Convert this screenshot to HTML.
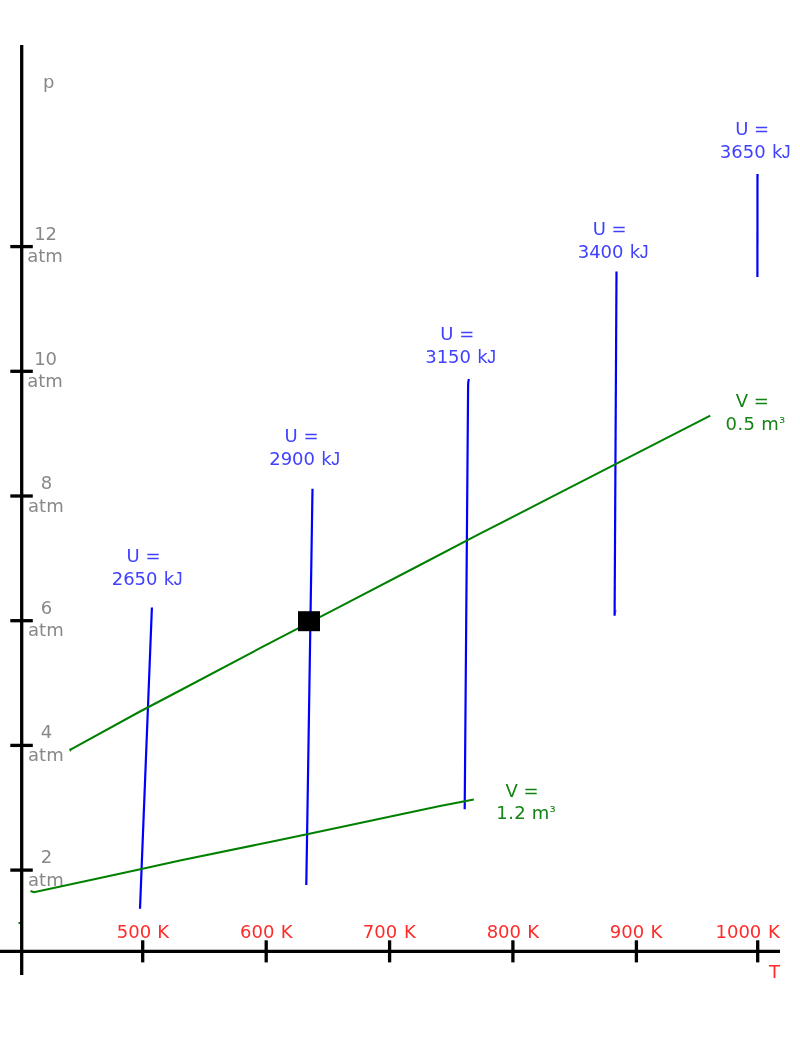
<!DOCTYPE html>
<html>
<head>
<meta charset="utf-8">
<title>p-T diagram</title>
<style>
html,body{margin:0;padding:0;background:#fff;}
svg{display:block;will-change:transform;}
text{font-family:"DejaVu Sans","Liberation Sans",sans-serif;font-size:18px;}
.J{font-family:"Liberation Sans",sans-serif;font-size:17.6px;}
.g{fill:#888;}
.r{fill:#ff2a2a;}
.b{fill:#4040ff;}
.v{fill:#158215;}
.ax{stroke:#000;stroke-width:3.3;fill:none;}
.bl{stroke:#0000ff;stroke-width:2.2;fill:none;stroke-linecap:butt;}
.gl{stroke:#008000;stroke-width:2.0;fill:none;stroke-linejoin:miter;}
</style>
</head>
<body>
<svg width="800" height="1050" viewBox="0 0 800 1050">
<rect width="800" height="1050" fill="#fff"/>

<!-- small green stub behind axis -->
<path class="gl" d="M18.5 923.3 L21 922.6"/>

<!-- axes -->
<g class="ax">
<line x1="21.7" y1="45" x2="21.7" y2="975"/>
<line x1="0" y1="951.3" x2="780" y2="951.3"/>
<!-- y ticks -->
<line x1="10.3" y1="246.6" x2="32.8" y2="246.6"/>
<line x1="10.3" y1="371.3" x2="32.8" y2="371.3"/>
<line x1="10.3" y1="496.0" x2="32.8" y2="496.0"/>
<line x1="10.3" y1="620.7" x2="32.8" y2="620.7"/>
<line x1="10.3" y1="745.4" x2="32.8" y2="745.4"/>
<line x1="10.3" y1="870.1" x2="32.8" y2="870.1"/>
<!-- x ticks -->
<line x1="142.7" y1="940.3" x2="142.7" y2="962.4"/>
<line x1="266.2" y1="940.3" x2="266.2" y2="962.4"/>
<line x1="389.6" y1="940.3" x2="389.6" y2="962.4"/>
<line x1="512.9" y1="940.3" x2="512.9" y2="962.4"/>
<line x1="636.4" y1="940.3" x2="636.4" y2="962.4"/>
<line x1="757.7" y1="940.3" x2="757.7" y2="962.4"/>
</g>

<!-- y labels -->
<g class="g" text-anchor="middle">
<text x="48.7" y="88">p</text>
<text x="45.6" y="239.8">12</text><text x="45" y="262.3">atm</text>
<text x="45.6" y="364.5">10</text><text x="45" y="387">atm</text>
<text x="46.5" y="489.2">8</text><text x="45.9" y="511.7">atm</text>
<text x="46.5" y="613.9">6</text><text x="45.9" y="636.4">atm</text>
<text x="46.5" y="737.9">4</text><text x="45.9" y="761.1">atm</text>
<text x="46.5" y="863.3">2</text><text x="45.9" y="885.8">atm</text>
</g>

<!-- x labels -->
<g class="r" text-anchor="middle">
<text word-spacing="0.5" x="142.95" y="937.6">500 K</text>
<text word-spacing="0.5" x="266.25" y="937.6">600 K</text>
<text word-spacing="1" x="389.3" y="937.6">700 K</text>
<text word-spacing="0.5" x="512.85" y="937.6">800 K</text>
<text word-spacing="0.5" x="636.05" y="937.6">900 K</text>
<text word-spacing="1" x="747.70" y="937.6">1000 K</text>
<text x="774.5" y="977.8">T</text>
</g>

<!-- U lines -->
<g class="bl">
<path d="M151.9 607.5 L140 908.7"/>
<path d="M312.5 488.8 L306.3 885"/>
<path d="M468.9 379 Q468.2 381 468.1 386 L464.7 809.3"/>
<path d="M616.5 271.5 L614.6 615.7"/>
<path d="M615.2 614.5 L616.2 610.2" stroke-width="1" stroke-opacity="0.55"/>
<path d="M757.5 174 L757.4 277"/>
</g>

<!-- V lines -->
<g class="gl">
<path d="M30.5 891 L34 892.3 L100 878 L141.5 869 L180 860.5 L270 842 L307 834.3 L360 823 L440 806 L473.8 799.5"/>
<path d="M69.5 749.2 L70.5 749.7 L140 711.5 L180 690.5 L260 648.2 L340 606.7 L420 565 L480 533.7 L560 492.7 L640 451.6 L710.3 415.7"/>
</g>

<path d="M69.4 749.4 L70.3 752 L71.8 749.4 Z" fill="#008000"/>

<!-- state point -->
<rect x="298" y="611.2" width="22" height="20" fill="#000"/>

<!-- U labels -->
<g class="b" text-anchor="middle">
<text x="143.5" y="561.9">U =</text><text text-anchor="start" word-spacing="0.6" x="111.7" y="584.8">2650 k<tspan class="J" dx="-0.5">J</tspan></text>
<text x="301.5" y="441.9">U =</text><text text-anchor="start" word-spacing="0.6" x="269.2" y="464.8">2900 k<tspan class="J" dx="-0.5">J</tspan></text>
<text x="457.3" y="339.8">U =</text><text text-anchor="start" word-spacing="0.6" x="425.2" y="362.5">3150 k<tspan class="J" dx="-0.5">J</tspan></text>
<text x="609.7" y="235.3">U =</text><text text-anchor="start" word-spacing="0.6" x="577.7" y="258.1">3400 k<tspan class="J" dx="-0.5">J</tspan></text>
<text x="752.2" y="135.3">U =</text><text text-anchor="start" word-spacing="0.6" x="719.8" y="158.1">3650 k<tspan class="J" dx="-0.5">J</tspan></text>
</g>

<!-- V labels -->
<g class="v" text-anchor="middle">
<text x="752.2" y="407.4">V =</text><text text-anchor="start" word-spacing="0.5" x="725.6" y="430.1">0<tspan dx="0.4">.</tspan><tspan dx="0.4">5</tspan> m<tspan font-size="14.8" dx="0.5" dy="-2.4">³</tspan></text>
<text x="522.1" y="797.3">V =</text><text text-anchor="start" word-spacing="0.2" x="496.3" y="819.4">1<tspan dx="0.4">.</tspan><tspan dx="0.4">2</tspan> m<tspan font-size="14.8" dx="0.5" dy="-2.4">³</tspan></text>
</g>
</svg>
</body>
</html>
